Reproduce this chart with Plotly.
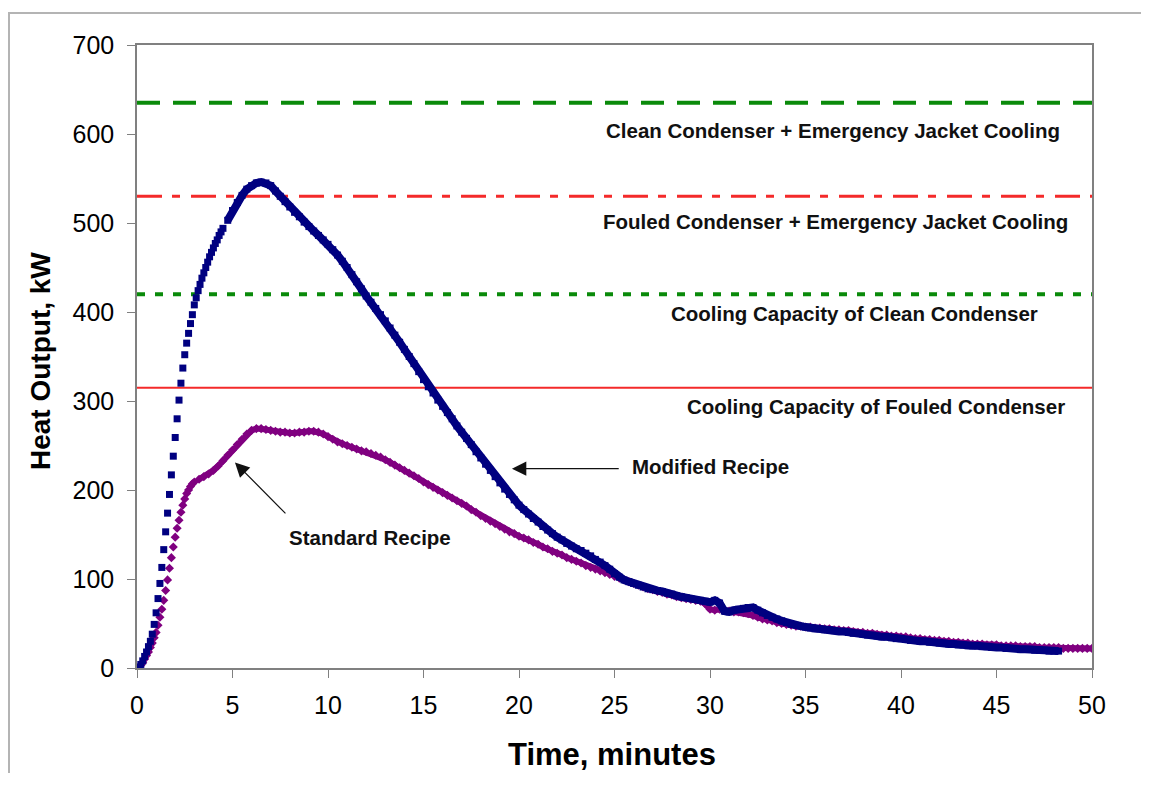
import plotly.graph_objects as go

# ---------------- data ----------------
# Modified recipe (blue squares): fine sampling during the rise, then every 0.25 min
MOD_RISE_T0, MOD_RISE_DT = 0.0, 0.1
MOD_RISE_V = [0, 1, 4, 8, 13, 18, 24, 30, 38, 49,
              62, 78, 95, 113, 133, 153, 174, 195, 217, 238,
              259, 280, 301, 320, 337, 352, 365, 376, 387, 397,
              408, 416, 424, 431, 438, 444, 450, 456, 462, 467,
              472, 477, 481, 486, 490, 494]
MOD_MAIN_T0, MOD_MAIN_DT = 4.75, 0.25
MOD_MAIN_V = [503,
              514, 523, 531, 538,   # 5
              542, 545, 546, 545,   # 6
              542, 536, 530, 524,   # 7
              518, 512, 507, 501,   # 8
              496, 491, 486, 481,   # 9
              476, 470, 464, 457,   # 10
              450, 442, 434, 426,   # 11
              418, 411, 404, 397,   # 12
              390, 382, 374, 366,   # 13
              358, 350, 342, 333,   # 14
              324, 316, 309, 301,   # 15
              294, 287, 280, 272,   # 16
              265, 258, 251, 243,   # 17
              236, 229, 222, 215,   # 18
              208, 201, 195, 189,   # 19
              183, 178, 173, 168,   # 20
              164, 159, 155, 151,   # 21
              147, 144, 140, 137,   # 22
              134, 132, 129, 126,   # 23
              122, 119, 115, 111,   # 24
              106, 102, 99, 97,     # 25
              95, 93, 91, 89,       # 26
              88, 87, 86, 84,       # 27
              83, 81, 80, 79,       # 28
              78, 77, 76, 75,       # 29
              74, 76, 73, 64,       # 30
              63, 65, 66, 67,       # 31
              68, 68, 65, 62,       # 32
              59, 57, 55, 53,       # 33
              51, 49, 48, 47,       # 34
              46, 45, 44, 44,       # 35
              43, 43, 42, 41,       # 36
              41, 40, 39, 39,       # 37
              38, 37, 37, 36,       # 38
              35, 35, 34, 33,       # 39
              33, 32, 31, 31,       # 40
              30, 30, 29, 29,       # 41
              28, 28, 27, 27,       # 42
              26, 26, 25, 25,       # 43
              25, 24, 24, 23,       # 44
              23, 23, 22, 22,       # 45
              22, 21, 21, 21,       # 46
              20, 20, 20, 19,       # 47
              19, 19]               # 48

# Standard recipe (purple diamonds)
STD_RISE_T0, STD_RISE_DT = 0.0, 0.1
STD_RISE_V = [0, 1, 3, 6, 10, 14, 18, 23, 28, 34,
              40, 48, 57, 66, 76, 87, 99, 112, 124, 136,
              147, 157, 166, 175, 183, 190, 196, 200, 204, 207,
              209]
STD_MAIN_T0, STD_MAIN_DT = 3.25, 0.25
STD_MAIN_V = [212, 215, 218,
              222, 227, 233, 239,   # 4
              245, 251, 257, 263,   # 5
              267, 269, 269, 268,   # 6
              267, 266, 265, 265,   # 7
              264, 264, 265, 265,   # 8
              266, 266, 265, 263,   # 9
              260, 257, 254, 252,   # 10
              250, 248, 246, 244,   # 11
              243, 241, 239, 237,   # 12
              234, 231, 228, 225,   # 13
              222, 219, 216, 213,   # 14
              209, 206, 203, 200,   # 15
              197, 194, 191, 188,   # 16
              185, 182, 178, 175,   # 17
              171, 168, 165, 162,   # 18
              159, 156, 153, 151,   # 19
              148, 146, 144, 141,   # 20
              139, 136, 134, 131,   # 21
              129, 127, 124, 122,   # 22
              120, 118, 115, 113,   # 23
              111, 109, 107, 105,   # 24
              103, 101, 99, 97,     # 25
              95, 93, 91, 89,       # 26
              88, 86, 85, 83,       # 27
              82, 80, 79, 78,       # 28
              77, 76, 75, 72,       # 29
              66, 65, 66, 65,       # 30
              64, 63, 63, 62,       # 31
              61, 59, 57, 55,       # 32
              54, 53, 51, 50,       # 33
              49, 48, 47, 47,       # 34
              46, 46, 45, 45,       # 35
              44, 44, 43, 43,       # 36
              42, 42, 41, 40,       # 37
              40, 39, 39, 38,       # 38
              37, 37, 36, 36,       # 39
              35, 35, 34, 33,       # 40
              33, 32, 32, 31,       # 41
              31, 30, 30, 29,       # 42
              29, 28, 28, 27,       # 43
              27, 27, 26, 26,       # 44
              26, 25, 25, 25,       # 45
              25, 24, 24, 24,       # 46
              24, 23, 23, 23,       # 47
              23, 23, 22, 22,       # 48
              22, 22, 22, 22,       # 49
              22]                   # 50

# Cooling capacity limits (kW)
LIMIT_NAMES = ["Clean Condenser + Emergency Jacket Cooling",
               "Fouled Condenser + Emergency Jacket Cooling",
               "Cooling Capacity of Clean Condenser",
               "Cooling Capacity of Fouled Condenser"]
LIMIT_VALUES = [635, 530, 420, 315]
LIMIT_LABEL_X = [36.45, 36.55, 37.55, 38.7]
LIMIT_LABEL_Y = [604, 502, 398, 294]

X_TICKS = [0, 5, 10, 15, 20, 25, 30, 35, 40, 45, 50]
Y_TICKS = [0, 100, 200, 300, 400, 500, 600, 700]


def grid(t0, dt, vals):
    return [round(t0 + dt * i, 3) for i in range(len(vals))]


FONT = "Liberation Sans, Arial, sans-serif"
BLUE, PURPLE = "#000080", "#800080"

fig = go.Figure()

limit_styles = [
    dict(color="#0a8a0a", width=4, dash="23px,13px"),
    dict(color="#f42a2a", width=3, dash="25px,10px,8px,11px"),
    dict(color="#0a8a0a", width=4, dash="8px,10px"),
    dict(color="#f42a2a", width=2, dash="solid"),
]
for val, st in zip(LIMIT_VALUES, limit_styles):
    fig.add_trace(go.Scatter(x=[X_TICKS[0], X_TICKS[-1]], y=[val, val], mode="lines",
                             line=st, hoverinfo="skip", showlegend=False))

# Standard recipe
fig.add_trace(go.Scatter(x=grid(STD_RISE_T0, STD_RISE_DT, STD_RISE_V), y=STD_RISE_V, mode="markers",
                         marker=dict(symbol="diamond", size=7, color=PURPLE, line=dict(width=0)),
                         showlegend=False))
fig.add_trace(go.Scatter(x=grid(STD_MAIN_T0, STD_MAIN_DT, STD_MAIN_V), y=STD_MAIN_V, mode="lines+markers",
                         line=dict(color=PURPLE, width=6),
                         marker=dict(symbol="diamond", size=7, color=PURPLE, line=dict(width=0)),
                         showlegend=False))
# Modified recipe
fig.add_trace(go.Scatter(x=grid(MOD_RISE_T0, MOD_RISE_DT, MOD_RISE_V), y=MOD_RISE_V, mode="markers",
                         marker=dict(symbol="square", size=7, color=BLUE, line=dict(width=0)),
                         showlegend=False))
fig.add_trace(go.Scatter(x=grid(MOD_MAIN_T0, MOD_MAIN_DT, MOD_MAIN_V), y=MOD_MAIN_V, mode="lines+markers",
                         line=dict(color=BLUE, width=8),
                         marker=dict(symbol="square", size=7, color=BLUE, line=dict(width=0)),
                         showlegend=False))

# page geometry (the page body adds an 8 px margin); keep the figure a bit smaller
# than the window so that the page never needs scrollbars
OFF = 8
W, H = 1153 - 2 * OFF - 4, 793 - 2 * OFF - 12
PX0, PX1, PY0, PY1 = 137, 1092, 45, 668      # plot area on the page
L, T = PX0 - OFF, PY0 - OFF
R, B = (OFF + W) - PX1, (OFF + H) - PY1
pw, ph = PX1 - PX0, PY1 - PY0


def paper_x(px):
    return (px - PX0) / pw


def paper_y(py):
    return (PY1 - py) / ph


annots = []
for name, lx, ly in zip(LIMIT_NAMES, LIMIT_LABEL_X, LIMIT_LABEL_Y):
    annots.append(dict(x=lx, y=ly, xref="x", yref="y", text="<b>%s</b>" % name, showarrow=False,
                       font=dict(family=FONT, size=20.5, color="#111111")))

annots.append(dict(x=30.05, y=226, xref="x", yref="y", text="<b>Modified Recipe</b>", showarrow=False,
                   font=dict(family=FONT, size=20.5, color="#111111")))
annots.append(dict(x=12.2, y=147, xref="x", yref="y", text="<b>Standard Recipe</b>", showarrow=False,
                   font=dict(family=FONT, size=20.5, color="#111111")))
# arrows
annots.append(dict(x=19.63, y=224, ax=25.3, ay=224, xref="x", yref="y", axref="x", ayref="y",
                   text="", showarrow=True, arrowhead=2, arrowsize=2.4, arrowwidth=1.2,
                   arrowcolor="#111111"))
annots.append(dict(x=5.13, y=231, ax=7.85, ay=172, xref="x", yref="y", axref="x", ayref="y",
                   text="", showarrow=True, arrowhead=2, arrowsize=2.4, arrowwidth=1.2,
                   arrowcolor="#111111"))
# axis titles
annots.append(dict(x=paper_x(612), y=paper_y(754), xref="paper", yref="paper",
                   xanchor="center", yanchor="middle",
                   text="<b>Time, minutes</b>", showarrow=False,
                   font=dict(family=FONT, size=31, color="#000000")))
annots.append(dict(x=paper_x(40), y=paper_y(361), xref="paper", yref="paper",
                   xanchor="center", yanchor="middle",
                   text="<b>Heat Output, kW</b>", showarrow=False, textangle=-90,
                   font=dict(family=FONT, size=28, color="#000000")))

frame = dict(color="#b4b4b4", width=2)
fig.update_layout(
    width=W, height=H,
    margin=dict(l=L, r=R, t=T, b=B),
    paper_bgcolor="white", plot_bgcolor="white",
    annotations=annots,
    shapes=[
        dict(type="path", xref="paper", yref="paper",
             path="M %.5f,%.5f L %.5f,%.5f L %.5f,%.5f" % (
                 paper_x(9), paper_y(OFF + H + 5), paper_x(9), paper_y(13),
                 paper_x(OFF + W + 5), paper_y(13)),
             line=frame, layer="below"),
    ],
)
fig.update_xaxes(range=[0, 50], tickvals=X_TICKS, ticks="outside", ticklen=8, tickwidth=1,
                 tickcolor="#808080", showline=True, linecolor="#808080", linewidth=1.5, mirror=True,
                 showgrid=False, zeroline=False, ticklabelstandoff=6,
                 tickfont=dict(family=FONT, size=25, color="#000000"))
fig.update_yaxes(range=[0, 700], tickvals=Y_TICKS, ticks="outside", ticklen=8, tickwidth=1,
                 tickcolor="#808080", showline=True, linecolor="#808080", linewidth=1.5, mirror=True,
                 showgrid=False, zeroline=False, ticklabelstandoff=8,
                 tickfont=dict(family=FONT, size=25, color="#000000"))

fig.write_html("out.html")
